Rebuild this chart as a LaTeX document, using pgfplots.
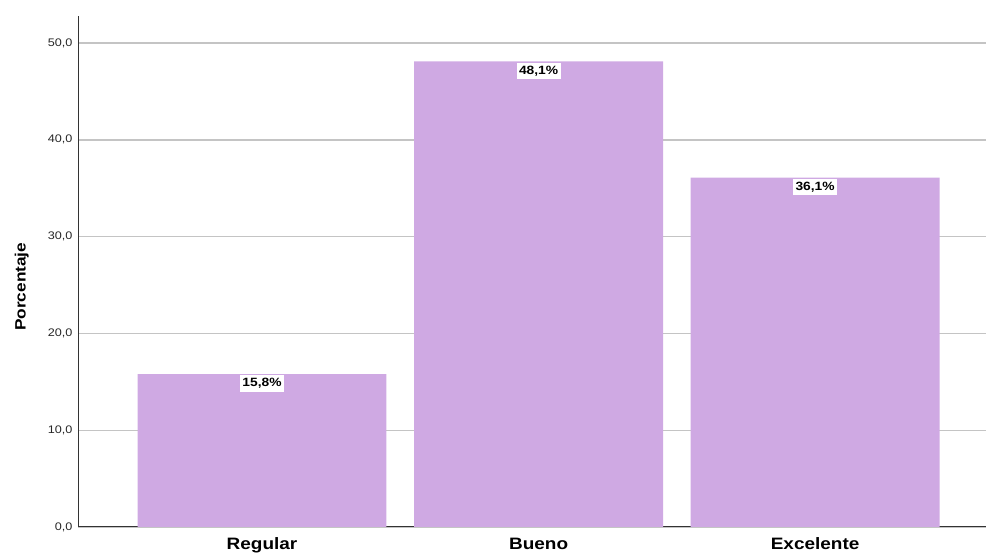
\documentclass[border=0pt]{standalone}
\usepackage{fontspec}
\setmainfont{Liberation Sans}[FakeStretch=1.15]
\usepackage{pgfplots}
\pgfplotsset{compat=1.18}
\definecolor{barfill}{HTML}{CFA9E3}
\definecolor{gridc}{HTML}{C4C4C4}
\begin{document}
\begin{tikzpicture}[x=1bp,y=1bp]
\useasboundingbox (0,0) rectangle (986,555);
\begin{axis}[
  at={(78bp,28bp)}, anchor=south west,
  scale only axis,
  width=908bp, height=511bp,
  xmin=-0.6655, xmax=2.618,
  ymin=0, ymax=52.8,
  axis x line*=bottom, axis y line*=left,
  axis line style={black!80, line width=1bp, -},
  xtick={0,1,2},
  xticklabels={Regular,Bueno,Excelente},
  x tick label style={font=\fontsize{16.5bp}{18bp}\selectfont\bfseries, anchor=north, inner sep=0pt, text height=12bp, text depth=3bp, yshift=-10bp},
  major x tick style={draw=none},
  ytick={0,10,20,30,40,50},
  yticklabel style={font=\fontsize{11bp}{13bp}\selectfont, text=black!85, xshift=-2bp},
  /pgf/number format/.cd, use comma, fixed, fixed zerofill, precision=1, assume math mode=true,
  /pgfplots/.cd,
  major y tick style={draw=none},
  ymajorgrids,
  grid style={gridc, line width=1.3bp},
  ylabel={Porcentaje},
  ylabel style={font=\fontsize{15bp}{17bp}\selectfont\bfseries, at={(axis description cs:-0.062,0.47)}, anchor=center, rotate=0},
]
\addplot[ybar, bar width=0.9, fill=barfill, draw=none,
  nodes near coords={\pgfmathprintnumber[use comma,fixed,fixed zerofill,precision=1]{\pgfplotspointmeta}\%},
  every node near coord/.append style={anchor=north, fill=white, inner xsep=2.5bp, inner ysep=3bp, yshift=-1bp,
    font=\fontsize{12bp}{14bp}\selectfont\bfseries, text=black},
] coordinates {(0,15.8) (1,48.1) (2,36.1)};
\end{axis}
\end{tikzpicture}
\end{document}
